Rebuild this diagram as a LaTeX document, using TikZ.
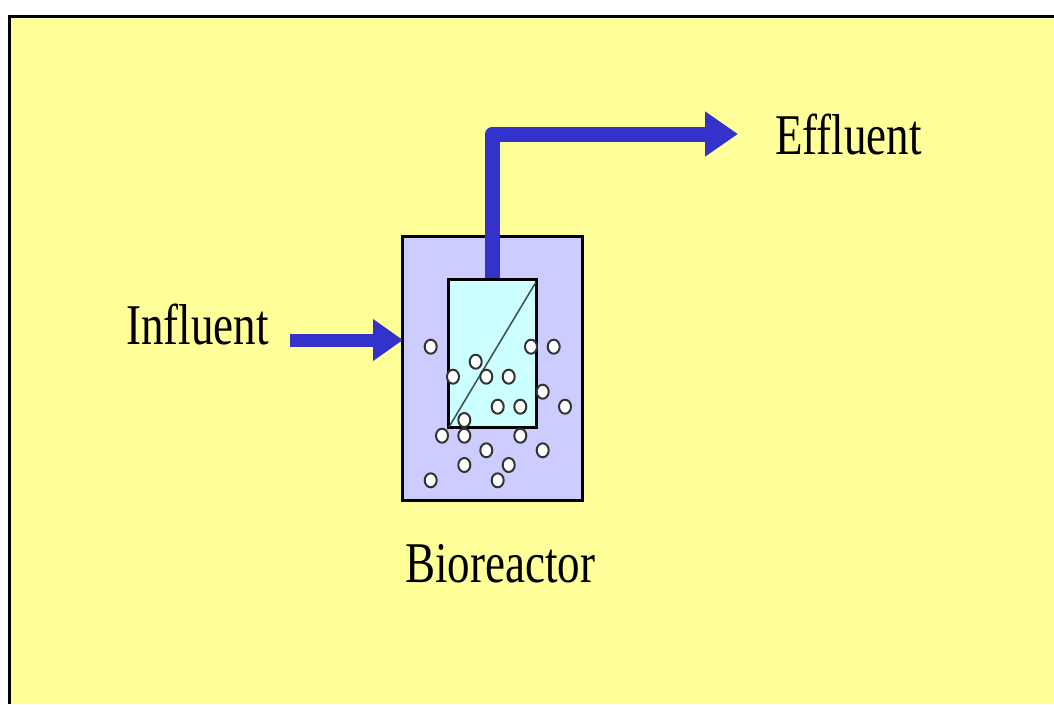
\documentclass[tikz,border=0pt]{standalone}
\usepackage{fontspec}
\usepackage{graphicx}
\usepackage{xcolor}
\usetikzlibrary{arrows.meta,shapes.geometric}
\setmainfont{Liberation Serif}
\definecolor{bgyellow}{HTML}{FFFF99}
\definecolor{tankblue}{HTML}{CCCCFF}
\definecolor{membrane}{HTML}{CCFFFF}
\definecolor{flowblue}{HTML}{3333CC}
\newcommand{\talltext}[1]{\scalebox{1}[1.28]{#1}}
\tikzset{
  particle/.style={ellipse, draw=black!80, fill=white, line width=2pt, minimum width=12pt, minimum height=14pt, inner sep=0pt},
  box/.style={draw=black, line width=3pt, inner sep=0pt, outer sep=0pt},
  flow/.style={draw=flowblue, line width=15pt, line join=round, -{Triangle[length=33pt,width=43pt]}},
  label/.style={font=\fontsize{45}{45}\selectfont, inner sep=0pt}
}
\begin{document}
\begin{tikzpicture}[x=1pt,y=-1pt]
\useasboundingbox (0,0) rectangle (1054,704);
\fill[white] (0,0) rectangle (1054,704);
\fill[bgyellow] (9.5,16.5) rectangle (1054,704);
\draw[line width=3pt] (9.5,704) -- (9.5,16.5) -- (1054,16.5);

\node[box, fill=tankblue, minimum width=180pt, minimum height=264pt] (tank) at (492.5,368.5) {};
\node[box, fill=membrane, minimum width=88pt, minimum height=148.5pt] (module) at (492.5,353.25) {};

\coordinate (sheeta) at (449,427);
\coordinate (sheetb) at (536,282);
\draw[line width=1.5pt, draw=black!70!membrane] (sheeta) -- (sheetb);

\foreach \i/\x/\y in {1/430.7/346.7, 2/531/346.7, 3/553.7/346.7, 4/475.7/361.7,
  5/453/376.7, 6/486.3/376.7, 7/508.7/376.7, 8/542.7/391.7, 9/497.7/406.7,
  10/520.3/406.7, 11/565/406.7, 12/464.3/420, 13/442/435.7, 14/464.3/435.7,
  15/520.3/435.7, 16/486.3/450.3, 17/542.7/450.3, 18/464.3/465, 19/508.7/465,
  20/430.7/480.3, 21/497.7/480.3}
  \node[particle] (p\i) at (\x,\y) {};

\coordinate (instart) at (290,340);
\coordinate (inend) at (403,340);
\draw[flow, line width=13pt, -{Triangle[length=30pt,width=40pt]}] (instart) -- (inend);

\coordinate (outstart) at (492.5,277.5);
\coordinate (outbend) at (492.5,134);
\coordinate (outend) at (738,134);
\draw[flow] (outstart) -- (outbend) -- (outend);

\node[label, anchor=base west] (influent) at (126,344) {\talltext{Influent}};
\node[label, anchor=base west] (effluent) at (775,154) {\talltext{Effluent}};
\node[label, anchor=base west] (bioreactor) at (405,582) {\talltext{Bioreactor}};
\end{tikzpicture}
\end{document}
